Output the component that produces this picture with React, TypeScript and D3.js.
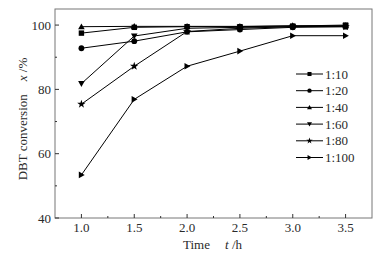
import React from "react";
import * as d3 from "d3";

const times = [1.0, 1.5, 2.0, 2.5, 3.0, 3.5];
const seriesNames = ["1:10", "1:20", "1:40", "1:60", "1:80", "1:100"];
const s110 = [97.5, 99.3, 99.5, 99.5, 99.7, 100];
const s120 = [92.8, 95.0, 97.9, 98.6, 99.3, 99.5];
const s140 = [99.5, 99.6, 99.6, 99.6, 99.8, 99.8];
const s160 = [81.8, 96.6, 99.0, 99.3, 99.5, 99.7];
const s180 = [75.4, 87.2, 98.0, 99.0, 99.5, 99.5];
const s1100 = [53.4, 76.9, 87.2, 91.9, 96.7, 96.7];
const seriesValues = [s110, s120, s140, s160, s180, s1100];
const xTicks = [1.0, 1.5, 2.0, 2.5, 3.0, 3.5];
const yTicks = [40, 60, 80, 100];

const W = 382, H = 257;
const left = 55, right = 372, top = 9, bottom = 218;
const font = "'Liberation Serif', 'Times New Roman', serif";

function Marker({ kind, x, y, k = 1 }: { kind: number; x: number; y: number; k?: number }) {
  const s = 2.7 * k;
  const t = 3.3 * k;
  const u = 2.6 * k;
  switch (kind) {
    case 0:
      return <rect x={x - s} y={y - s} width={2 * s} height={2 * s} fill="#000" />;
    case 1:
      return <circle cx={x} cy={y} r={2.9 * k} fill="#000" />;
    case 2:
      return <path d={`M${x},${y - t}L${x + t},${y + u}L${x - t},${y + u}Z`} fill="#000" />;
    case 3:
      return <path d={`M${x},${y + t}L${x + t},${y - u}L${x - t},${y - u}Z`} fill="#000" />;
    case 4: {
      const star = d3.symbol(d3.symbolStar, 22 * k * k)();
      return <path d={star || ""} transform={`translate(${x},${y})`} fill="#000" />;
    }
    default:
      return <path d={`M${x + t},${y}L${x - u},${y - t}L${x - u},${y + t}Z`} fill="#000" />;
  }
}

export default function App() {
  const x = d3.scaleLinear().domain([0.75, 3.75]).range([left, right]);
  const y = d3.scaleLinear().domain([40, 105]).range([bottom, top]);
  const line = d3.line<number>().x((_, i) => x(times[i])).y((d) => y(d));
  const xMinor = d3.range(1.25, 3.6, 0.5);
  const yMinor = [50, 70, 90];
  const legX = 296, legY = 74, legDy = 16.7;
  const txt = "#2a2a2a";

  return (
    <svg width={W} height={H} style={{ position: "absolute", left: 0, top: 0, background: "#fff" }}>
      <rect x={left} y={top} width={right - left} height={bottom - top} fill="none" stroke="#777" strokeWidth={1} />
      {xTicks.map((t) => (
        <g key={"xt" + t}>
          <line x1={x(t)} x2={x(t)} y1={bottom} y2={bottom - 4} stroke="#333" />
          <text x={x(t)} y={232} textAnchor="middle" fontFamily={font} fontSize={13} fill={txt}>
            {t.toFixed(1)}
          </text>
        </g>
      ))}
      {xMinor.map((t) => (
        <line key={"xm" + t} x1={x(t)} x2={x(t)} y1={bottom} y2={bottom - 2} stroke="#333" />
      ))}
      {yTicks.map((t) => (
        <g key={"yt" + t}>
          <line x1={left} x2={left + 4} y1={y(t)} y2={y(t)} stroke="#333" />
          <text x={51} y={y(t) + 4.5} textAnchor="end" fontFamily={font} fontSize={13} fill={txt}>
            {t}
          </text>
        </g>
      ))}
      {yMinor.map((t) => (
        <line key={"ym" + t} x1={left} x2={left + 2} y1={y(t)} y2={y(t)} stroke="#333" />
      ))}
      {seriesValues.map((vals, si) => (
        <g key={"s" + si}>
          <path d={line(vals) || ""} fill="none" stroke="#000" strokeWidth={1} />
          {vals.map((v, i) => (
            <Marker key={i} kind={si} x={x(times[i])} y={y(v)} />
          ))}
        </g>
      ))}
      {seriesNames.map((n, i) => (
        <g key={"lg" + n}>
          <line x1={legX} x2={legX + 27} y1={legY + i * legDy} y2={legY + i * legDy} stroke="#000" />
          <Marker kind={i} x={legX + 13.5} y={legY + i * legDy} k={0.75} />
          <text x={legX + 29} y={legY + i * legDy + 4.5} fontFamily={font} fontSize={13} fill={txt}>
            {n}
          </text>
        </g>
      ))}
      <text x={183} y={249} fontFamily={font} fontSize={13} fill={txt}>
        Time
        <tspan x={225} fontStyle="italic">t</tspan>
        <tspan> /h</tspan>
      </text>
      <text
        transform={`translate(27,119) rotate(-90)`}
        textAnchor="middle"
        fontFamily={font}
        fontSize={13}
        fill={txt}
        xmlSpace="preserve"
      >
        {"DBT conversion    "}
        <tspan fontStyle="italic">x</tspan>
        <tspan> /%</tspan>
      </text>
    </svg>
  );
}
